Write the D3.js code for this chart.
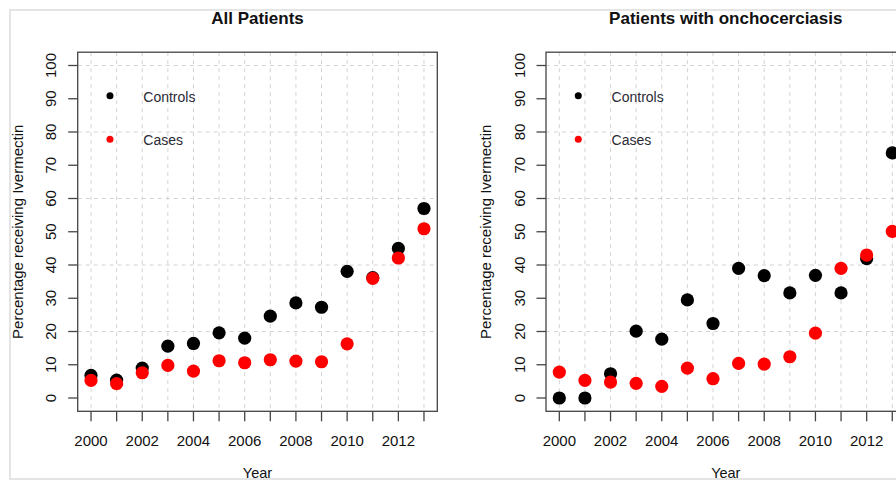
<!DOCTYPE html>
<html>
<head>
<meta charset="utf-8">
<script src="https://cdn.jsdelivr.net/npm/d3@7"></script>
<style>
  html, body { margin: 0; padding: 0; background: #fff; }
  svg { display: block; font-family: "Liberation Sans", Arial, Helvetica, sans-serif; }
</style>
</head>
<body>
<svg id="chart" width="896" height="481"></svg>
<script>
// ---- data ----
const years = [2000, 2001, 2002, 2003, 2004, 2005, 2006, 2007, 2008, 2009, 2010, 2011, 2012, 2013];
const yearLabels = [2000, 2002, 2004, 2006, 2008, 2010, 2012];
const yTicks = [0, 10, 20, 30, 40, 50, 60, 70, 80, 90, 100];
const yGrid = [20, 40, 60, 80, 100];

const allControls = [6.8, 5.4, 9.0, 15.6, 16.4, 19.6, 18.0, 24.6, 28.6, 27.3, 38.1, 36.2, 45.0, 57.0];
const allCases    = [5.3, 4.3, 7.6, 9.8, 8.1, 11.2, 10.6, 11.5, 11.1, 10.9, 16.3, 36.0, 42.1, 50.9];

const onchoControls = [0, 0, 7.3, 20.1, 17.7, 29.5, 22.4, 39.0, 36.8, 31.6, 36.9, 31.6, 41.9, 73.7];
const onchoCases    = [7.8, 5.3, 4.8, 4.4, 3.5, 9.0, 5.8, 10.4, 10.2, 12.4, 19.5, 39.0, 43.0, 50.1];

const panelTitles = ["All Patients", "Patients with onchocerciasis"];
const seriesNames = ["Controls", "Cases"];
const seriesColors = ["#000000", "#ff0000"];
const xTitle = "Year";
const yTitle = "Percentage receiving Ivermectin";

// ---- drawing ----
(function () {
const svg = d3.select("#chart");

svg.append("rect").attr("x", 0).attr("y", 0).attr("width", 896).attr("height", 481).attr("fill", "#fff");
svg.append("rect").attr("x", 10).attr("y", 10).attr("width", 900).attr("height", 469)
  .attr("fill", "none").attr("stroke", "#e4e4e4").attr("stroke-width", 2);

const panels = [
  { left: 77.7, title: panelTitles[0], controls: allControls, cases: allCases },
  { left: 546, title: panelTitles[1], controls: onchoControls, cases: onchoCases }
];
const panelW = 359.6;
const plotTop = 52.2, plotBottom = 411.3;

panels.forEach(p => {
  const g = svg.append("g");
  const x = d3.scaleLinear().domain([2000 - 0.52, 2013 + 0.52]).range([p.left, p.left + panelW]);
  const y = d3.scaleLinear().domain([-4, 104]).range([plotBottom, plotTop]);

  // grid
  g.selectAll(".vg").data(years).enter().append("line")
    .attr("x1", d => x(d)).attr("x2", d => x(d)).attr("y1", plotTop).attr("y2", plotBottom)
    .attr("stroke", "#d3d3d3").attr("stroke-width", 1).attr("stroke-dasharray", "4,4");
  g.selectAll(".hg").data(yGrid).enter().append("line")
    .attr("x1", p.left).attr("x2", p.left + panelW).attr("y1", d => y(d)).attr("y2", d => y(d))
    .attr("stroke", "#d3d3d3").attr("stroke-width", 1).attr("stroke-dasharray", "4,4");

  // points: controls then cases
  [[p.controls, seriesColors[0]], [p.cases, seriesColors[1]]].forEach(([vals, col]) => {
    g.selectAll(null).data(vals).enter().append("circle")
      .attr("cx", (d, i) => x(years[i])).attr("cy", d => y(d)).attr("r", 6.6)
      .attr("fill", col);
  });

  // legend
  const legY = [90.9, 77.8];
  seriesNames.forEach((nm, i) => {
    g.append("circle").attr("cx", x(2000.74)).attr("cy", y(legY[i])).attr("r", 3.5).attr("fill", seriesColors[i]);
    g.append("text").attr("x", x(2002.04)).attr("y", y(legY[i]) + 6)
      .attr("font-size", 14).attr("fill", "#2a2a35").text(nm);
  });

  // box
  g.append("rect").attr("x", p.left).attr("y", plotTop).attr("width", panelW).attr("height", plotBottom - plotTop)
    .attr("fill", "none").attr("stroke", "#444").attr("stroke-width", 1.3);

  // y axis ticks
  g.selectAll(".yt").data(yTicks).enter().append("line")
    .attr("x1", p.left - 9.5).attr("x2", p.left).attr("y1", d => y(d)).attr("y2", d => y(d))
    .attr("stroke", "#444").attr("stroke-width", 1.3);
  g.selectAll(".yl").data(yTicks).enter().append("text")
    .attr("transform", d => `translate(${p.left - 21.5},${y(d)}) rotate(-90)`)
    .attr("text-anchor", "middle").attr("font-size", 15).attr("fill", "#111").text(d => d);

  // x axis ticks
  g.selectAll(".xt").data(years).enter().append("line")
    .attr("x1", d => x(d)).attr("x2", d => x(d)).attr("y1", plotBottom).attr("y2", plotBottom + 10)
    .attr("stroke", "#444").attr("stroke-width", 1.3);
  g.selectAll(".xl").data(yearLabels).enter().append("text")
    .attr("x", d => x(d)).attr("y", 445.5).attr("text-anchor", "middle")
    .attr("font-size", 15).attr("fill", "#111").text(d => d);

  // titles
  g.append("text").attr("x", p.left + panelW / 2).attr("y", 24).attr("text-anchor", "middle")
    .attr("font-size", 17).attr("font-weight", "bold").attr("fill", "#111").text(p.title);
  g.append("text").attr("x", p.left + panelW / 2).attr("y", 478).attr("text-anchor", "middle")
    .attr("font-size", 14.5).attr("fill", "#111").text(xTitle);
  g.append("text").attr("transform", `translate(${p.left - 55},${(plotTop + plotBottom) / 2}) rotate(-90)`)
    .attr("text-anchor", "middle").attr("font-size", 15).attr("fill", "#111").text(yTitle);
});
})();
</script>
</body>
</html>
